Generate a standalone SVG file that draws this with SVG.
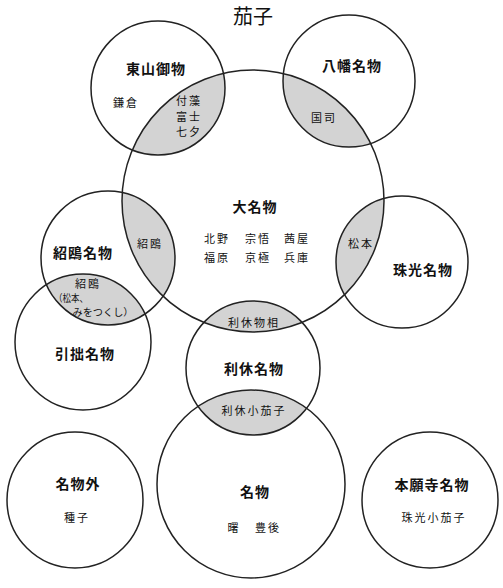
<svg xmlns="http://www.w3.org/2000/svg" width="503" height="588" viewBox="0 0 503 588">
<style>
.c{fill:none;stroke:#222;stroke-width:1.5}
.s{fill:#d3d3d3;stroke:none}
text{font-family:"Noto Sans CJK JP","Noto Sans CJK SC",sans-serif;fill:#111;text-anchor:middle;dominant-baseline:central}
.t{font-size:20px}
.n{font-size:14px;font-weight:bold;letter-spacing:1px}
.m{font-size:11px;letter-spacing:2px}
.k{font-size:10px}
</style>
<defs>
<clipPath id="cpBig"><circle cx="253" cy="201" r="131"/></clipPath>
<clipPath id="cpHik"><circle cx="83" cy="342" r="68"/></clipPath>
<clipPath id="cpMei"><circle cx="251" cy="484" r="94"/></clipPath>
</defs>
<rect width="503" height="588" fill="#fff"/>
<g id="shading">
<circle class="s" cx="158" cy="88" r="67" clip-path="url(#cpBig)"/>
<circle class="s" cx="349" cy="81" r="66" clip-path="url(#cpBig)"/>
<circle class="s" cx="108" cy="258" r="67" clip-path="url(#cpBig)"/>
<circle class="s" cx="108" cy="258" r="67" clip-path="url(#cpHik)"/>
<circle class="s" cx="402" cy="262" r="66" clip-path="url(#cpBig)"/>
<circle class="s" cx="253" cy="368" r="67" clip-path="url(#cpBig)"/>
<circle class="s" cx="253" cy="368" r="67" clip-path="url(#cpMei)"/>
</g>
<text class="t" x="253" y="15">茄子</text>
<g id="daimeibutsu"><circle class="c" cx="253" cy="201" r="131"/>
<text class="n" x="255" y="206">大名物</text>
<text class="m" x="217" y="238">北野</text><text class="m" x="258" y="238">宗悟</text><text class="m" x="297" y="238">茜屋</text>
<text class="m" x="217" y="257">福原</text><text class="m" x="258" y="257">京極</text><text class="m" x="297" y="257">兵庫</text>
</g>
<g id="higashiyama"><circle class="c" cx="158" cy="88" r="67"/>
<text class="n" x="156" y="68">東山御物</text>
<text class="m" x="126" y="102">鎌倉</text>
<text class="m" x="189" y="100">付藻</text><text class="m" x="189" y="116">富士</text><text class="m" x="189" y="131">七夕</text>
</g>
<g id="hachiman"><circle class="c" cx="349" cy="81" r="66"/>
<text class="n" x="352" y="65">八幡名物</text>
<text class="m" x="324" y="117">国司</text>
</g>
<g id="jouou"><circle class="c" cx="108" cy="258" r="67"/>
<text class="n" x="83" y="252">紹鴎名物</text>
<text class="m" x="150" y="243">紹鴎</text>
<text class="m" x="88" y="283">紹鴎</text>
<text class="k" x="71" y="297" textLength="34" lengthAdjust="spacingAndGlyphs">（松本、</text>
<text class="k" x="103" y="311" textLength="61" lengthAdjust="spacingAndGlyphs">みをつくし）</text>
</g>
<g id="injitsu"><circle class="c" cx="83" cy="342" r="68"/>
<text class="n" x="85" y="353">引拙名物</text>
</g>
<g id="jukou"><circle class="c" cx="402" cy="262" r="66"/>
<text class="n" x="423" y="269">珠光名物</text>
<text class="m" x="361" y="243">松本</text>
</g>
<g id="rikyu"><circle class="c" cx="253" cy="368" r="67"/>
<text class="m" x="254" y="322">利休物相</text>
<text class="n" x="254" y="368">利休名物</text>
<text class="m" x="254" y="410">利休小茄子</text>
</g>
<g id="meibutsu"><circle class="c" cx="251" cy="484" r="94"/>
<text class="n" x="255" y="491">名物</text>
<text class="m" x="234" y="527">曙</text><text class="m" x="268" y="527">豊後</text>
</g>
<g id="meibutsugai"><circle class="c" cx="75" cy="500" r="68"/>
<text class="n" x="78" y="483">名物外</text>
<text class="m" x="77" y="517">種子</text>
</g>
<g id="honganji"><circle class="c" cx="430" cy="500" r="68"/>
<text class="n" x="432" y="484">本願寺名物</text>
<text class="m" x="434" y="517">珠光小茄子</text>
</g>
<g id="connectors"></g>
</svg>
